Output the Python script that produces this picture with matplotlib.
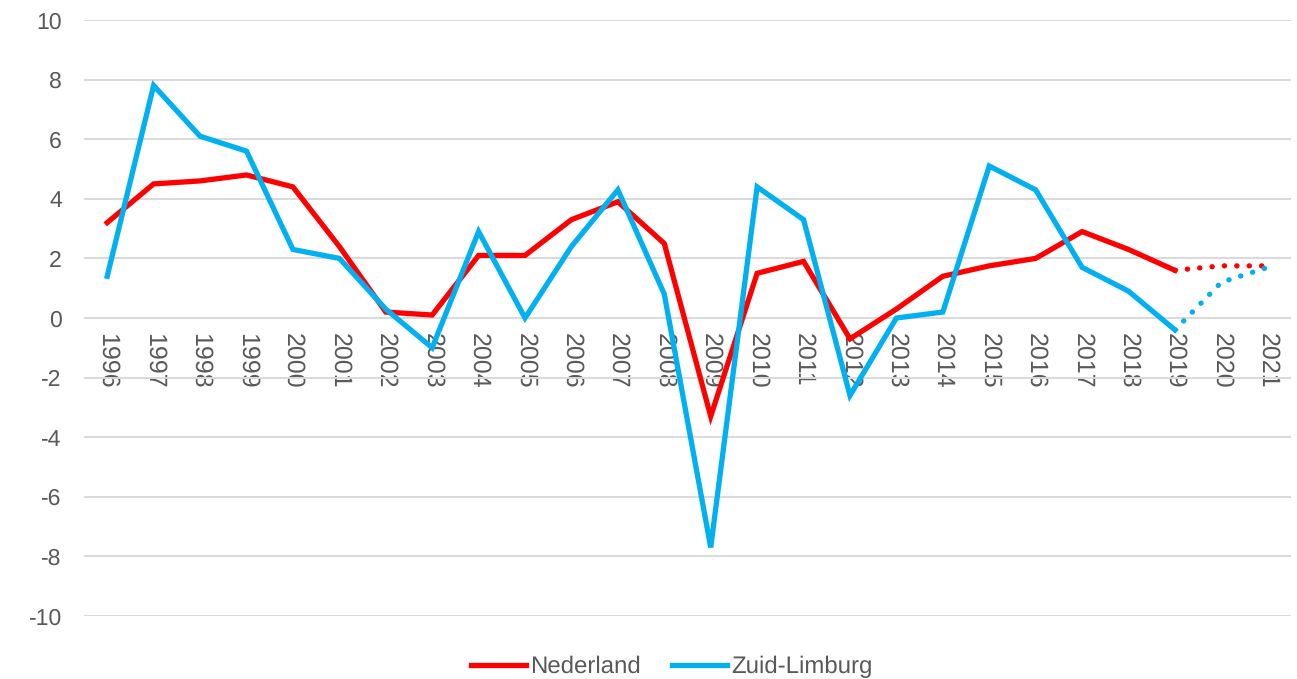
import matplotlib.pyplot as plt

years = [str(y) for y in range(1996, 2022)]

# actual values 1996-2019
nederland = [3.2, 4.5, 4.6, 4.8, 4.4, 2.4, 0.2, 0.1, 2.1, 2.1, 3.3, 3.9, 2.5,
             -3.3, 1.5, 1.9, -0.7, 0.3, 1.4, 1.75, 2.0, 2.9, 2.3, 1.6]
zuid_limburg = [1.4, 7.8, 6.1, 5.6, 2.3, 2.0, 0.3, -1.0, 2.9, 0.0, 2.4, 4.3, 0.8,
                -7.7, 4.4, 3.3, -2.6, 0.0, 0.2, 5.1, 4.3, 1.7, 0.9, -0.4]

# forecast 2019-2021 (dotted)
nederland_prog = [1.6, 1.75, 1.75]
zuid_limburg_prog = [-0.4, 1.2, 1.7]

red = '#ff0000'
blue = '#00b0f0'
grey = '#595959'

plt.rcParams['font.family'] = ['Liberation Sans', 'DejaVu Sans']
plt.rcParams['axes.unicode_minus'] = False
plt.rcParams['text.hinting'] = 'no_hinting'
plt.rcParams['text.hinting_factor'] = 1

fig = plt.figure(figsize=(12.97, 6.79), dpi=100)
ax = fig.add_axes([84 / 1297, 1 - 616 / 679, (1291 - 84) / 1297, (616 - 20) / 679])

x = list(range(len(years)))
n = len(nederland)

ax.plot(x[:n], nederland, color=red, lw=3.8, solid_joinstyle='miter', label='Nederland')
ax.plot(x[:n], zuid_limburg, color=blue, lw=3.8, solid_joinstyle='miter', label='Zuid-Limburg')
ax.plot(x[n - 1:], nederland_prog, color=red, lw=3.8, linestyle=(0, (0.05, 2.3)),
        dash_capstyle='round')
ax.plot(x[n - 1:], zuid_limburg_prog, color=blue, lw=3.8, linestyle=(0, (0.05, 2.3)),
        dash_capstyle='round')

ax.set_xlim(-0.5, len(years) - 0.5)
ax.set_ylim(-10, 10)
ax.set_yticks(range(-10, 11, 2))
ax.grid(axis='y', color='#d9d9d9', lw=1.4)
ax.set_axisbelow(True)

# category labels sit just below the zero line
ax.spines['bottom'].set_position(('data', 0))
for s in ['top', 'right', 'left', 'bottom']:
    ax.spines[s].set_visible(False)
ax.set_xticks(x)
ax.set_xticklabels(years, rotation=270, va='top', ha='center')
ax.tick_params(axis='x', length=0, pad=11, labelsize=18, labelcolor=grey)
ax.tick_params(axis='y', length=0, pad=16, labelsize=16.5, labelcolor=grey)

ax.legend(loc='center', bbox_to_anchor=(0.487, -0.085), ncol=2, frameon=False,
          fontsize=17, labelcolor=grey, handlelength=2.35, handletextpad=0.17,
          columnspacing=1.3)

fig.savefig('out.png', dpi=100)
